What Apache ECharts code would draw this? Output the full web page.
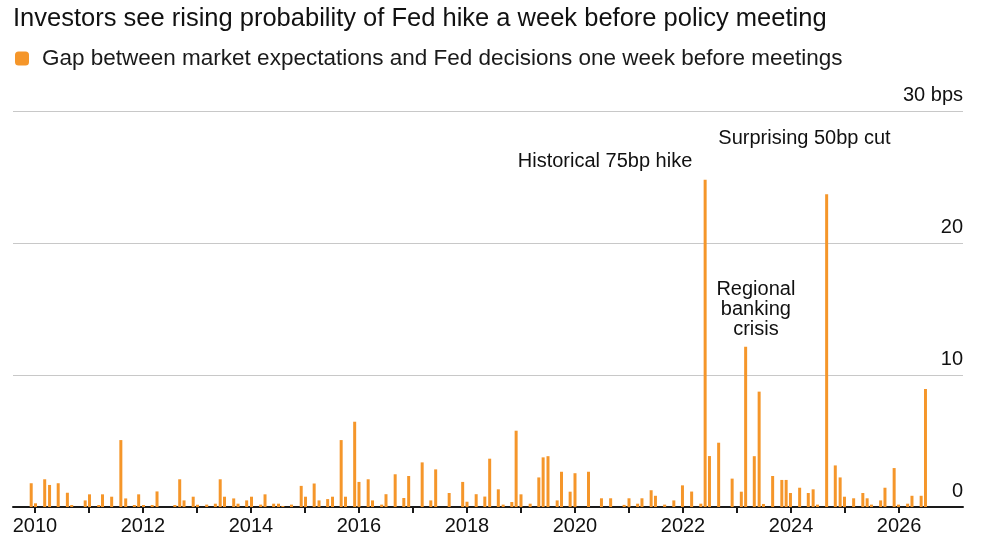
<!DOCTYPE html>
<html>
<head>
<meta charset="utf-8">
<script src="https://cdn.jsdelivr.net/npm/echarts@6/dist/echarts.min.js"></script>
<style>
  html, body { margin: 0; padding: 0; background: #fff; }
  #chart { width: 1000px; height: 545px; }
</style>
</head>
<body>
<div id="chart"></div>
<script>
// FOMC meeting dates (decimal years) and the gap in bps one week before each meeting
const meetingYears = [
  2009.93, 2010.01, 2010.18, 2010.27, 2010.43, 2010.60, 2010.68, 2010.93,
  2011.01, 2011.18, 2011.25, 2011.42, 2011.59, 2011.68, 2011.84, 2011.92,
  2012.01, 2012.17, 2012.26, 2012.59, 2012.68, 2012.76, 2012.93,
  2013.01, 2013.18, 2013.34, 2013.43, 2013.51, 2013.68, 2013.76, 2013.92,
  2014.01, 2014.18, 2014.26, 2014.42, 2014.51, 2014.59, 2014.75, 2014.93,
  2015.01, 2015.17, 2015.26, 2015.42, 2015.51, 2015.67, 2015.75, 2015.92,
  2016.00, 2016.17, 2016.25, 2016.42, 2016.50, 2016.67, 2016.83, 2016.92,
  2017.17, 2017.33, 2017.42, 2017.67, 2017.92,
  2018.00, 2018.17, 2018.33, 2018.42, 2018.58, 2018.67, 2018.83, 2018.91,
  2019.00, 2019.17, 2019.33, 2019.41, 2019.50, 2019.67, 2019.75, 2019.91,
  2020.00, 2020.25, 2020.49, 2020.66, 2020.91,
  2021.00, 2021.16, 2021.24, 2021.41, 2021.49, 2021.66, 2021.83, 2021.99,
  2022.16, 2022.33, 2022.41, 2022.49, 2022.66, 2022.91,
  2023.08, 2023.16, 2023.32, 2023.41, 2023.49, 2023.66, 2023.83, 2023.91, 2023.99,
  2024.16, 2024.32, 2024.41, 2024.49, 2024.66, 2024.82, 2024.91, 2024.99,
  2025.16, 2025.33, 2025.41, 2025.49, 2025.66, 2025.74, 2025.91, 2025.99,
  2026.16, 2026.24, 2026.41, 2026.49
];
const gapBps = [
  1.8, 0.28, 2.1, 1.67, 1.8, 1.08, 0.15, 0.5,
  0.96, 0.15, 0.96, 0.78, 5.07, 0.65, 0.15, 0.96,
  0.15, 0.15, 1.18, 0.15, 2.1, 0.5, 0.78,
  0.17, 0.18, 0.25, 2.1, 0.78, 0.65, 0.25, 0.5,
  0.78, 0.18, 0.96, 0.25, 0.25, 0.08, 0.18, 1.6,
  0.78, 1.78, 0.5, 0.6, 0.78, 5.07, 0.78, 6.46,
  1.9, 2.1, 0.5, 0.18, 0.97, 2.48, 0.68, 2.35,
  3.38, 0.5, 2.85, 1.06, 1.9,
  0.4, 0.97, 0.79, 3.66, 1.34, 0.18, 0.38, 5.78,
  0.96, 0.25, 2.24, 3.76, 3.85, 0.5, 2.67, 1.16,
  2.56, 2.67, 0.66, 0.66, 0.16,
  0.66, 0.25, 0.66, 1.27, 0.85, 0.18, 0.5, 1.64,
  1.17, 0.25, 24.8, 3.86, 4.87, 2.15,
  1.16, 12.14, 3.85, 8.74, 0.23, 2.35, 2.05, 2.05, 1.06,
  1.46, 1.06, 1.34, 0.18, 23.7, 3.15, 2.24, 0.78,
  0.66, 1.06, 0.66, 0.18, 0.5, 1.46, 2.95, 0.18,
  0.25, 0.85, 0.85, 8.94
];
const yearTicks = [2010, 2011, 2012, 2013, 2014, 2015, 2016, 2017, 2018,
  2019, 2020, 2021, 2022, 2023, 2024, 2025, 2026];
const yearLabels = [2010, 2012, 2014, 2016, 2018, 2020, 2022, 2024, 2026];
const noteTexts = ['Historical 75bp hike', 'Surprising 50bp cut', 'Regional\nbanking\ncrisis'];
const notePlaces = [[2020.556, 26.14], [2024.25, 27.95], [2023.35, 14.95]];

const seriesName = 'Gap between market expectations and Fed decisions one week before meetings';
const orange = '#f5962a';
const font = '"Liberation Sans", Arial, Helvetica, sans-serif';

const chart = echarts.init(document.getElementById('chart'), null, { renderer: 'canvas' });

const option = {
  backgroundColor: '#fff',
  animation: false,
  textStyle: { fontFamily: font },
  title: {
    text: 'Investors see rising probability of Fed hike a week before policy meeting',
    left: 10,
    top: 6,
    padding: [0, 0, 0, 3],
    textStyle: { fontFamily: font, fontSize: 25.5, fontWeight: 'normal', color: '#111' }
  },
  legend: {
    left: 15,
    top: 47,
    padding: 0,
    itemWidth: 14,
    itemHeight: 14,
    icon: 'roundRect',
    data: [seriesName],
    textStyle: { fontFamily: font, fontSize: 22.5, color: '#1a1a1a', padding: [0, 0, 0, 8] }
  },
  grid: { left: 13, right: 37, top: 111, bottom: 38, containLabel: false },
  xAxis: {
    type: 'value',
    min: 2009.593,
    max: 2027.185,
    splitLine: { show: false },
    axisLine: { show: true, onZero: false, lineStyle: { color: '#1a1a1a', width: 2 } },
    axisTick: {
      show: true,
      customValues: yearTicks,
      length: 6,
      lineStyle: { color: '#1a1a1a', width: 2 }
    },
    axisLabel: {
      customValues: yearLabels,
      fontFamily: font,
      fontSize: 20,
      color: '#111',
      margin: 9,
      formatter: v => String(v)
    }
  },
  yAxis: {
    type: 'value',
    position: 'right',
    min: 0,
    max: 30,
    interval: 10,
    axisLine: { show: false },
    axisTick: { show: false },
    splitLine: { show: true, lineStyle: { color: '#c8c8c8', width: 1 } },
    axisLabel: {
      inside: true,
      align: 'right',
      verticalAlign: 'bottom',
      margin: 0,
      padding: [0, 0, 6, 0],
      fontFamily: font,
      fontSize: 20,
      color: '#111',
      formatter: v => (v === 30 ? '30 bps' : String(v))
    }
  },
  series: [{
    name: seriesName,
    type: 'bar',
    barWidth: 3,
    itemStyle: { color: orange },
    data: meetingYears.map((y, i) => [y, gapBps[i]]),
    markPoint: {
      symbol: 'circle',
      symbolSize: 1,
      silent: true,
      itemStyle: { color: 'rgba(0,0,0,0)' },
      label: {
        show: true,
        position: 'inside',
        fontFamily: font,
        fontSize: 20,
        lineHeight: 20,
        align: 'center',
        color: '#111',
        formatter: p => p.name
      },
      data: noteTexts.map((t, i) => ({ name: t, coord: notePlaces[i] }))
    }
  }]
};

chart.setOption(option);
</script>
</body>
</html>
